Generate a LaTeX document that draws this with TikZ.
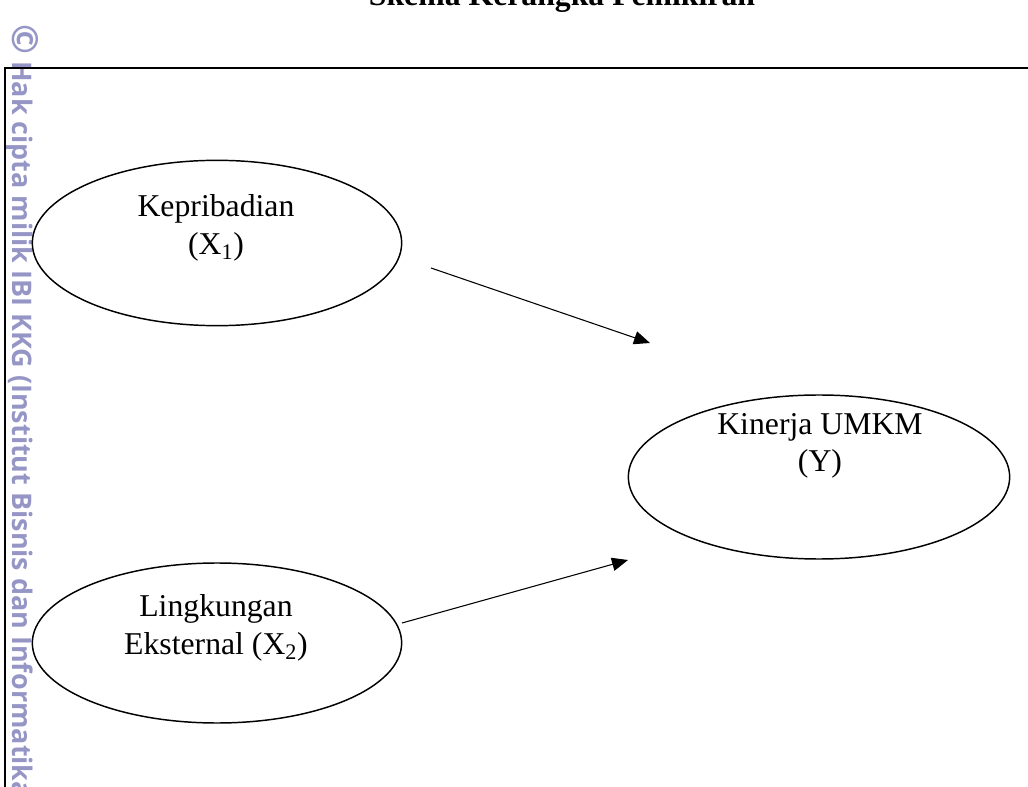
\documentclass[tikz,border=0pt]{standalone}
\usepackage{fontspec}
\setmainfont{Liberation Serif}
\newfontfamily\wmfont{Open Sans}
\usetikzlibrary{arrows.meta,shapes.geometric}
\definecolor{wmlav}{HTML}{9696C6}

\begin{document}
\begin{tikzpicture}[x=0.75pt,y=-0.75pt,
   var/.style={draw,line width=1.1pt,ellipse,inner sep=0pt,
               minimum width=277pt,minimum height=124pt},
   lbl/.style={align=center,inner sep=0pt,
               font=\fontsize{23.8}{28}\selectfont},
   ar/.style={-{Triangle[length=12pt,width=10pt]},line width=0.8pt},
   wm/.style={font=\wmfont\bfseries\fontsize{20.2}{21}\selectfont,
              color=wmlav,rotate=-90,anchor=west,inner sep=0pt}]
  \useasboundingbox (0,0) rectangle (1028,787);
  % watermark and title
  \node[wm] (cipta) at (22,24) {{\fontsize{27}{27}\selectfont\textcopyright}\ Hak cipta milik IBI KKG (Institut Bisnis dan Informatika};
  \node[anchor=base,font=\bfseries\fontsize{23.8}{27}\selectfont] (judul) at (562,6) {Skema Kerangka Pemikiran};
  \draw[line width=2pt] (5,790) -- (5,68) -- (1030,68);
  % variables
  \node[var] (x1) at (217,243) {};
  \node[var,minimum height=120pt] (x2) at (217,643) {};
  \node[var,minimum width=286pt,minimum height=123pt] (y) at (819,477) {};
  \node[lbl] (tx1) at (216,228) {Kepribadian\\(X\textsubscript{1})};
  \node[lbl] (tx2) at (216,628) {Lingkungan\\Eksternal (X\textsubscript{2})};
  \node[lbl] (ty) at (820,446) {Kinerja UMKM\\(Y)};
  % arrows
  \coordinate (a1s) at (431,268); \coordinate (a1e) at (650,343);
  \coordinate (a2s) at (402,623); \coordinate (a2e) at (628,560);
  \draw[ar] (a1s)--(a1e);
  \draw[ar] (a2s)--(a2e);
\end{tikzpicture}
\end{document}
